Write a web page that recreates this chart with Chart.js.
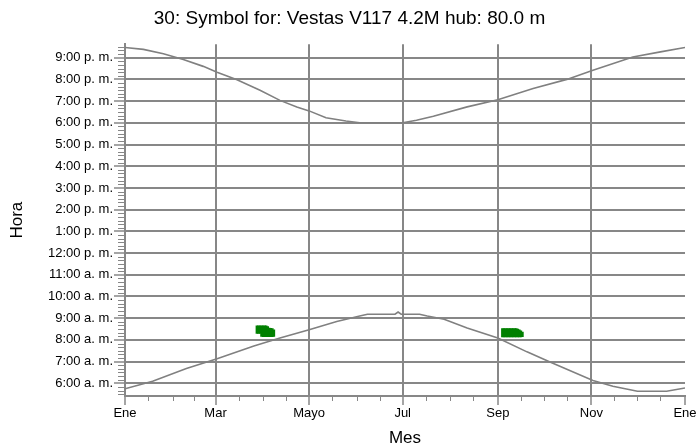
<!DOCTYPE html>
<html>
<head>
<meta charset="utf-8">
<script src="https://cdn.jsdelivr.net/npm/chart.js@4.4.1/dist/chart.umd.min.js"></script>
<style>
  html, body { margin: 0; padding: 0; background: #fff; }
</style>
</head>
<body>
<canvas id="myChart" width="699" height="447"></canvas>
<script>
// top curve (sunset): day of year -> minutes after midnight
const sunsetDays = [0, 12, 25, 38, 51, 60, 73, 88, 101, 112, 120, 131, 144, 153, 181, 190, 201, 223, 243, 266, 288, 305, 331, 349, 365];
const sunsetMinutes = [1288, 1283, 1271, 1255, 1236, 1220, 1199, 1170, 1142, 1124, 1113, 1094, 1085, 1080, 1080, 1087, 1098, 1124, 1144, 1175, 1200, 1225, 1262, 1276, 1288];

// bottom curve (sunrise)
const sunriseDays = [0, 18, 40, 60, 84, 101, 120, 138, 153, 158, 176, 178, 180, 192, 197, 208, 223, 243, 262, 277, 305, 318, 334, 353, 365];
const sunriseMinutes = [345, 366, 401, 428, 463, 485, 508, 531, 546, 551, 551, 557, 551, 551, 546, 537, 513, 485, 447, 419, 368, 352, 338, 338, 347];

// shadow flicker periods (green marks)
const flickerDays = [86, 87, 88, 89, 90, 91, 92, 93, 94, 95, 96, 97,
                     246, 247, 248, 249, 250, 251, 252, 253, 254, 255, 256, 257, 258, 259];
const flickerStart = [498, 498, 498, 490, 489, 489, 489, 489, 489, 489, 489, 490,
                      488, 488, 488, 488, 488, 488, 488, 488, 488, 488, 488, 488, 488, 489];
const flickerEnd = [519, 519, 519, 519, 519, 519, 519, 517, 513, 512, 511, 508,
                    511, 511, 511, 511, 511, 511, 511, 511, 511, 511, 510, 508, 505, 502];

// axis ticks
const monthTickDays = [0, 59, 120, 181, 243, 304, 365];
const monthTickLabels = ['Ene', 'Mar', 'Mayo', 'Jul', 'Sep', 'Nov', 'Ene'];
const monthMinorDays = [15, 31, 45, 74, 90, 105, 135, 151, 166, 196, 212, 227, 258, 273, 288, 319, 334, 349];
const hourTickMinutes = [360, 420, 480, 540, 600, 660, 720, 780, 840, 900, 960, 1020, 1080, 1140, 1200, 1260];
const hourTickLabels = ['6:00 a. m.', '7:00 a. m.', '8:00 a. m.', '9:00 a. m.', '10:00 a. m.', '11:00 a. m.',
                        '12:00 p. m.', '1:00 p. m.', '2:00 p. m.', '3:00 p. m.', '4:00 p. m.', '5:00 p. m.',
                        '6:00 p. m.', '7:00 p. m.', '8:00 p. m.', '9:00 p. m.'];

const gridGray = '#878787';
const fontFamily = '"Liberation Sans", Arial, sans-serif';

// small unlabeled ticks along both axes
const minorTicks = {
    id: 'minorTicks',
    afterDraw(chart) {
        const { ctx, chartArea, scales } = chart;
        ctx.save();
        ctx.strokeStyle = gridGray;
        ctx.lineWidth = 1;
        ctx.beginPath();
        monthMinorDays.forEach(d => {
            const px = Math.round(scales.x.getPixelForValue(d)) + 0.5;
            ctx.moveTo(px, chartArea.bottom);
            ctx.lineTo(px, chartArea.bottom + 5);
        });
        for (let m = 330; m <= 1290; m += 10) {
            if (m % 60 === 0) continue;
            const py = Math.round(scales.y.getPixelForValue(m)) + 0.5;
            ctx.moveTo(chartArea.left - 7, py);
            ctx.lineTo(chartArea.left, py);
        }
        ctx.stroke();
        ctx.restore();
    }
};

const ctx = document.getElementById('myChart');

new Chart(ctx, {
    type: 'line',
    data: {
        datasets: [
            {
                type: 'bar',
                data: flickerDays.map((d, i) => ({ x: d, y: [flickerStart[i], flickerEnd[i]] })),
                backgroundColor: '#008000',
                borderWidth: 0,
                barThickness: 2,
            },
            {
                data: sunsetDays.map((d, i) => ({ x: d, y: sunsetMinutes[i] })),
                borderColor: '#808080',
                borderWidth: 1.6,
                pointRadius: 0,
                fill: false,
                tension: 0,
            },
            {
                data: sunriseDays.map((d, i) => ({ x: d, y: sunriseMinutes[i] })),
                borderColor: '#808080',
                borderWidth: 1.6,
                pointRadius: 0,
                fill: false,
                tension: 0,
            },
        ],
    },
    options: {
        responsive: false,
        animation: false,
        layout: { padding: 0 },
        plugins: {
            legend: { display: false },
            tooltip: { enabled: false },
            title: {
                display: true,
                text: '30: Symbol for: Vestas V117 4.2M hub: 80.0 m',
                color: '#000',
                font: { family: fontFamily, size: 19, weight: 'normal', lineHeight: 1.2 },
                padding: { top: 7, bottom: 14.5 },
            },
        },
        scales: {
            x: {
                type: 'linear',
                position: 'bottom',
                min: 0,
                max: 365,
                offset: false,
                afterBuildTicks: s => { s.ticks = monthTickDays.map(v => ({ value: v })); },
                afterFit: s => { s.height = 51; s.paddingLeft = 0; s.paddingRight = 14; },
                ticks: {
                    autoSkip: false,
                    maxRotation: 0,
                    padding: 1,
                    color: '#000',
                    font: { family: fontFamily, size: 13 },
                    callback: (v, i) => monthTickLabels[i],
                },
                grid: {
                    offset: false,
                    color: c => (c.tick && (c.tick.value === 0 || c.tick.value === 365)) ? 'rgba(0,0,0,0)' : gridGray,
                    lineWidth: 2,
                    tickColor: gridGray,
                    tickWidth: 1.5,
                    tickLength: 9,
                },
                border: { color: gridGray, width: 2 },
                title: {
                    display: true,
                    text: 'Mes',
                    color: '#000',
                    font: { family: fontFamily, size: 17, lineHeight: 1 },
                    padding: 0,
                },
            },
            y: {
                type: 'linear',
                position: 'left',
                min: 325,
                max: 1297,
                afterBuildTicks: s => { s.ticks = hourTickMinutes.map(v => ({ value: v })); },
                afterFit: s => { s.width = 125; s.paddingTop = 0; s.paddingBottom = 0; },
                ticks: {
                    autoSkip: false,
                    padding: 1,
                    color: '#000',
                    font: { family: fontFamily, size: 13 },
                    callback: (v, i) => hourTickLabels[i],
                },
                grid: {
                    color: gridGray,
                    lineWidth: 2,
                    tickColor: gridGray,
                    tickWidth: 1.5,
                    tickLength: 11,
                },
                border: { color: gridGray, width: 2 },
                title: {
                    display: true,
                    text: 'Hora',
                    color: '#000',
                    font: { family: fontFamily, size: 17, lineHeight: 1 },
                    padding: { top: 9, bottom: 0 },
                },
            },
        },
    },
    plugins: [minorTicks],
});
</script>
</body>
</html>
